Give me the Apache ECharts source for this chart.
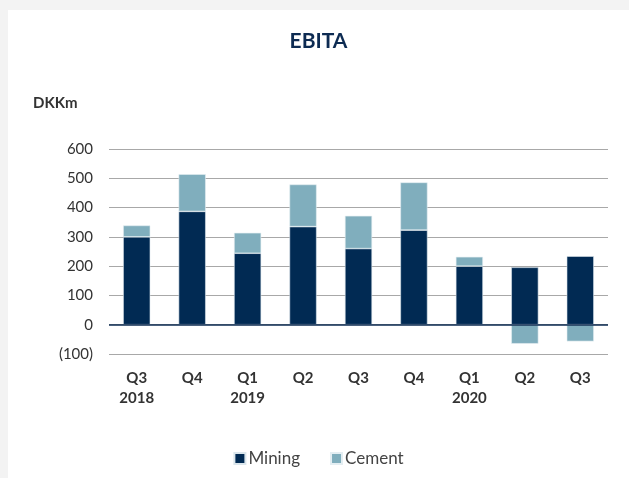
<!DOCTYPE html>
<html>
<head>
<meta charset="utf-8">
<script src="https://cdn.jsdelivr.net/npm/echarts@6/dist/echarts.min.js"></script>
<style>
  html, body { margin: 0; padding: 0; background: #f3f3f3; }
  /* white card */
  .card {
    position: absolute;
    left: 8px; top: 10px;
    width: 621px; height: 468px;
    background: #fff;
  }
  #chart { width: 621px; height: 468px; }
</style>
</head>
<body>
<div class="card"><div id="chart"></div></div>
<script>
  // quarters (two-line labels)
  const categories = ['Q3\n2018', 'Q4', 'Q1\n2019', 'Q2', 'Q3', 'Q4', 'Q1\n2020', 'Q2', 'Q3'];
  const mining = [300, 387, 244, 335, 260, 323, 200, 196, 234];
  const cement = [39, 127, 70, 144, 112, 163, 32, -65, -57];
  const yTicks = [-100, 0, 100, 200, 300, 400, 500, 600];

  const chart = echarts.init(document.getElementById('chart'));
  const font = 'Lato, "Open Sans", sans-serif';

  const option = {
    animation: false,
    textStyle: { fontFamily: font },
    title: {
      text: 'EBITA',
      left: 'center',
      top: 16,
      textStyle: { color: '#0d2b52', fontSize: 21, fontWeight: 'bold', fontFamily: font }
    },
    graphic: [{
      type: 'text',
      left: 25, top: 86,
      style: { text: 'DKKm', fill: '#333', font: 'bold 15px ' + font }
    }],
    legend: {
      bottom: 6,
      left: 'center',
      itemWidth: 11,
      itemHeight: 11,
      itemGap: 30,
      icon: 'rect',
      textStyle: { color: '#444', fontSize: 17, fontFamily: font, padding: [0, 0, 0, -2] },
      data: ['Mining', 'Cement']
    },
    grid: { left: 101, right: 21, top: 139, bottom: 124 },
    xAxis: {
      type: 'category',
      data: categories,
      axisLine: { show: false },
      axisTick: { show: false },
      axisLabel: {
        color: '#333', fontSize: 15, fontWeight: 'bold', lineHeight: 20,
        margin: 14, interval: 0
      }
    },
    yAxis: {
      type: 'value',
      min: yTicks[0],
      max: yTicks[yTicks.length - 1],
      interval: 100,
      axisLabel: {
        color: '#333', fontSize: 15, margin: 16,
        formatter: v => v < 0 ? '(' + Math.abs(v) + ')' : String(v)
      },
      splitLine: { lineStyle: { color: '#a8a8a8', width: 1 } }
    },
    series: [
      {
        name: 'Mining', type: 'bar', stack: 'ebita', data: mining,
        barWidth: '49%',
        itemStyle: { color: '#012a53', borderColor: '#dbe6ec', borderWidth: 0.6 },
        markLine: {
          silent: true, symbol: 'none', label: { show: false },
          lineStyle: { color: '#0d2b52', width: 1.5, type: 'solid' },
          data: [{ yAxis: 0 }]
        }
      },
      {
        name: 'Cement', type: 'bar', stack: 'ebita', data: cement,
        itemStyle: { color: '#80aebd', borderColor: '#e4eef2', borderWidth: 0.6 }
      }
    ]
  };
  chart.setOption(option);
</script>
</body>
</html>
